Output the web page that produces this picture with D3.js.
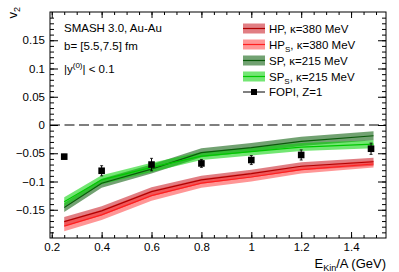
<!DOCTYPE html>
<html>
<head>
<meta charset="utf-8">
<script src="https://cdn.jsdelivr.net/npm/d3@7"></script>
<style>
  body { margin: 0; background: #fff; }
  svg { font-family: "Liberation Sans", Arial, sans-serif; }
</style>
</head>
<body>
<svg id="chart" width="399" height="272"></svg>
<script>
// model energies (GeV per nucleon)
var ekin = [0.25, 0.4, 0.6, 0.8, 1.0, 1.2, 1.49];

// v2 centre values and band half widths
var hp      = [-0.171, -0.152, -0.118, -0.097, -0.086, -0.073, -0.065];
var hpErr   = [0.008, 0.008, 0.008, 0.007, 0.007, 0.007, 0.007];
var hps     = [-0.179, -0.159, -0.125, -0.103, -0.092, -0.079, -0.069];
var hpsErr  = [0.009, 0.009, 0.009, 0.008, 0.008, 0.007, 0.006];
var sp      = [-0.146, -0.103, -0.078, -0.049, -0.040, -0.029, -0.019];
var spErr   = [0.008, 0.008, 0.008, 0.008, 0.008, 0.008, 0.008];
var sps     = [-0.136, -0.097, -0.075, -0.055, -0.047, -0.039, -0.034];
var spsErr  = [0.008, 0.008, 0.008, 0.007, 0.007, 0.007, 0.007];

// FOPI data
var fopiX   = [0.25, 0.4, 0.6, 0.8, 1.0, 1.2, 1.48];
var fopiY   = [-0.056, -0.081, -0.070, -0.068, -0.062, -0.053, -0.042];
var fopiErr = [0.004, 0.009, 0.011, 0.007, 0.008, 0.009, 0.010];

var xTicks = [0.2, 0.4, 0.6, 0.8, 1.0, 1.2, 1.4];
var yTicks = [-0.15, -0.1, -0.05, 0, 0.05, 0.1, 0.15];

var seriesList = [
  {name: "HP", sub: "", rest: ", \u03BA=380 MeV", y: hp, err: hpErr, fill: "rgb(200,20,30)", op: 0.55, line: "#b00000"},
  {name: "HP", sub: "S", rest: ", \u03BA=380 MeV", y: hps, err: hpsErr, fill: "rgb(255,45,45)", op: 0.5, line: "#ff2020"},
  {name: "SP", sub: "", rest: ", \u03BA=215 MeV", y: sp, err: spErr, fill: "rgb(20,100,20)", op: 0.6, line: "#0a5a0a"},
  {name: "SP", sub: "S", rest: ", \u03BA=215 MeV", y: sps, err: spsErr, fill: "rgb(0,210,0)", op: 0.55, line: "#00c800"}
];

var L = 50, R = 386, T = 12, B = 238;
var svg = d3.select("#chart");

var x = d3.scaleLinear().domain([0.193, 1.54]).range([L, R]);
var y = d3.scaleLinear().domain([-0.2, 0.2]).range([B, T]);

var plot = svg.append("g");

// bands and lines
seriesList.forEach(function(s) {
  var pts = ekin.map(function(e, i) { return {x: e, y: s.y[i], e: s.err[i]}; });
  var area = d3.area()
    .x(function(d) { return x(d.x); })
    .y0(function(d) { return y(d.y - d.e); })
    .y1(function(d) { return y(d.y + d.e); });
  plot.append("path").datum(pts).attr("d", area)
    .attr("fill", s.fill).attr("fill-opacity", s.op);
});
seriesList.forEach(function(s) {
  var pts = ekin.map(function(e, i) { return {x: e, y: s.y[i]}; });
  var line = d3.line().x(function(d) { return x(d.x); }).y(function(d) { return y(d.y); });
  plot.append("path").datum(pts).attr("d", line)
    .attr("fill", "none").attr("stroke", s.line).attr("stroke-width", 1.2);
});

// zero line
plot.append("line")
  .attr("x1", x(0.193)).attr("x2", x(1.54))
  .attr("y1", y(0)).attr("y2", y(0))
  .attr("stroke", "#555").attr("stroke-width", 1.6)
  .attr("stroke-dasharray", "10,4.5");

// FOPI points
var fopi = fopiX.map(function(v, i) { return {x: v, y: fopiY[i], e: fopiErr[i]}; });
var fp = plot.selectAll(".fopi").data(fopi).enter().append("g").attr("class", "fopi");
fp.append("line")
  .attr("x1", function(d) { return x(d.x); }).attr("x2", function(d) { return x(d.x); })
  .attr("y1", function(d) { return y(d.y - d.e); }).attr("y2", function(d) { return y(d.y + d.e); })
  .attr("stroke", "#000").attr("stroke-width", 1);
[1, -1].forEach(function(sg) {
  fp.append("line")
    .attr("x1", function(d) { return x(d.x) - 1.5; }).attr("x2", function(d) { return x(d.x) + 1.5; })
    .attr("y1", function(d) { return y(d.y + sg * d.e); }).attr("y2", function(d) { return y(d.y + sg * d.e); })
    .attr("stroke", "#000").attr("stroke-width", 0.8);
});
fp.append("rect")
  .attr("x", function(d) { return x(d.x) - 3.3; }).attr("y", function(d) { return y(d.y) - 3.3; })
  .attr("width", 6.6).attr("height", 6.6).attr("fill", "#000");

// axes, ROOT style ticks on all sides
function minorVals(lo, hi, step) {
  var out = [];
  for (var v = lo; v <= hi + 1e-9; v += step) out.push(+v.toFixed(4));
  return out;
}
var xMinor = minorVals(0.2, 1.5, 0.05);
var yMinor = minorVals(-0.19, 0.19, 0.01);
var fmt = function(d) { return d3.format("")(+d.toFixed(2)).replace("-", "\u2212"); };

var axes = svg.append("g").attr("font-size", 11);

function drawAxis(axisFn, scale, tr, vals, size, labels) {
  var a = axisFn(scale).tickValues(vals).tickSizeInner(size).tickSizeOuter(0);
  if (labels) a.tickFormat(fmt).tickPadding(4); else a.tickFormat("");
  var g = axes.append("g").attr("transform", tr).call(a);
  g.select(".domain").remove();
  g.selectAll("line").attr("stroke", "#000");
  g.selectAll("text").attr("font-size", 11.5).attr("fill", "#000")
    .attr("font-family", "Liberation Sans, Arial, sans-serif");
  return g;
}

drawAxis(d3.axisBottom, x, "translate(0," + B + ")", xMinor, -3, false);
var xb = drawAxis(d3.axisBottom, x, "translate(0," + B + ")", xTicks, -6, true);
xb.selectAll("text").attr("y", 5);
drawAxis(d3.axisTop, x, "translate(0," + T + ")", xMinor, -3, false);
drawAxis(d3.axisTop, x, "translate(0," + T + ")", xTicks, -6, false);

drawAxis(d3.axisLeft, y, "translate(" + L + ",0)", yMinor, -4, false);
var yl = drawAxis(d3.axisLeft, y, "translate(" + L + ",0)", yTicks, -8, true);
yl.selectAll("text").attr("x", -5);
drawAxis(d3.axisRight, y, "translate(" + R + ",0)", yMinor, -4, false);
drawAxis(d3.axisRight, y, "translate(" + R + ",0)", yTicks, -8, false);

axes.append("rect").attr("x", L).attr("y", T).attr("width", R - L).attr("height", B - T)
  .attr("fill", "none").attr("stroke", "#000").attr("stroke-width", 1);

// axis titles
var xt = svg.append("text").attr("x", R).attr("y", 268).attr("text-anchor", "end")
  .attr("font-size", 13).attr("fill", "#000");
xt.append("tspan").text("E");
xt.append("tspan").attr("font-size", 9).attr("dy", 2.5).text("Kin");
xt.append("tspan").attr("dy", -2.5).text("/A (GeV)");

var yt = svg.append("text").attr("transform", "translate(17,7) rotate(-90)")
  .attr("text-anchor", "end").attr("font-size", 13).attr("fill", "#000");
yt.append("tspan").text("v");
yt.append("tspan").attr("font-size", 9).attr("dy", 3).text("2");

// info text
var info = svg.append("g").attr("font-size", 11.5);
info.append("text").attr("x", 64).attr("y", 32).text("SMASH 3.0, Au-Au");
info.append("text").attr("x", 64).attr("y", 50).text("b= [5.5,7.5] fm");
var yy = info.append("text").attr("x", 64).attr("y", 73);
yy.append("tspan").text("|y");
yy.append("tspan").attr("font-size", 8).attr("dy", -5).text("(0)");
yy.append("tspan").attr("dy", 5).text("| < 0.1");

// legend
var leg = svg.append("g").attr("font-size", 11.5);
var rowY = [28.5, 44.5, 60.5, 76.5, 92];
seriesList.forEach(function(s, i) {
  var g = leg.append("g").attr("transform", "translate(0," + rowY[i] + ")");
  g.append("rect").attr("x", 243).attr("y", -5).attr("width", 22).attr("height", 10)
    .attr("fill", s.fill).attr("fill-opacity", s.op);
  g.append("line").attr("x1", 243).attr("x2", 265).attr("y1", 0).attr("y2", 0)
    .attr("stroke", s.line).attr("stroke-width", 1.2);
  var t = g.append("text").attr("x", 269).attr("y", 4);
  t.append("tspan").text(s.name);
  if (s.sub) {
    t.append("tspan").attr("font-size", 8).attr("dy", 3).text(s.sub);
    t.append("tspan").attr("dy", -3).text(s.rest);
  } else {
    t.append("tspan").text(s.rest);
  }
});
var fg = leg.append("g").attr("transform", "translate(0," + rowY[4] + ")");
fg.append("line").attr("x1", 243).attr("x2", 265).attr("y1", 0).attr("y2", 0)
  .attr("stroke", "#000").attr("stroke-width", 1);
fg.append("rect").attr("x", 251).attr("y", -3).attr("width", 6).attr("height", 6).attr("fill", "#000");
fg.append("text").attr("x", 269).attr("y", 4).text("FOPI, Z=1");
</script>
</body>
</html>
